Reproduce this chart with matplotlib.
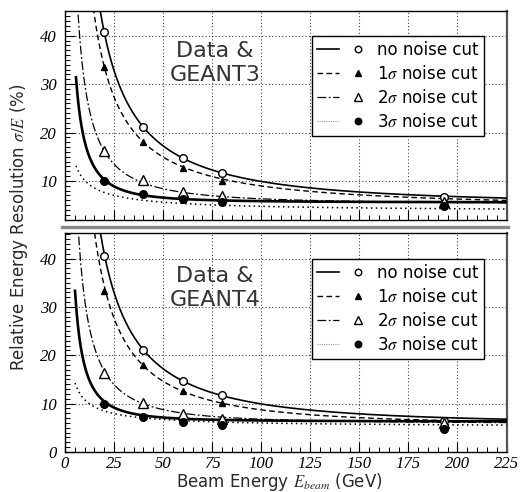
import numpy as np
import matplotlib
matplotlib.use("Agg")
import matplotlib.pyplot as plt
from matplotlib.lines import Line2D
from matplotlib.legend_handler import HandlerTuple
from matplotlib.ticker import MultipleLocator

# Beam energies (GeV) of the measured points
energies = [20, 40, 60, 80, 193]

# Measured relative resolution (%) for each noise-cut setting
res_no_cut = [40.7, 21.1, 14.7, 11.6, 6.6]
res_1sigma = [33.6, 18.0, 12.6, 10.0, 5.5]
res_2sigma = [16.1, 10.1, 7.8, 6.8, 5.6]
res_3sigma = [10.0, 7.25, 6.3, 5.7, 4.8]

# Bottom-panel measurements
res_no_cut_g4 = [40.6, 21.1, 14.6, 11.7, 6.5]
res_1sigma_g4 = [33.4, 18.0, 12.7, 10.2, 5.5]
res_2sigma_g4 = [16.3, 10.1, 7.9, 6.9, 6.0]
res_3sigma_g4 = [9.9, 7.3, 6.3, 5.6, 4.7]

# Simulation parametrisations sigma/E = a/sqrt(E) (+) b/E (+) c, in %
# columns: stochastic a, noise b, constant c
g3_no_cut = [31.3, 795, 5.0]
g3_1sigma = [47.5, 632, 4.24]
g3_2sigma = [23.7, 288, 5.1]
g3_3sigma = [29.8, 0, 3.71]
g3_total = [0, 173, 5.57]

g4_no_cut = [0, 812, 5.74]
g4_1sigma = [0, 678, 5.48]
g4_2sigma = [16.3, 306, 5.83]
g4_3sigma = [30.0, 0, 5.2]
g4_total = [0, 167, 6.3]

# lowest energy (GeV) at which the parametrisations are drawn
curve_start_g3 = 5.6
curve_start_g4 = 5.1

labels = ["no noise cut", r"1$\sigma$ noise cut",
          r"2$\sigma$ noise cut", r"3$\sigma$ noise cut"]
panel_titles = ["Data &\nGEANT3", "Data &\nGEANT4"]

x_ticks = [0, 25, 50, 75, 100, 125, 150, 175, 200, 225]
y_ticks = [0, 10, 20, 30, 40]

plt.rcParams["font.family"] = ["DejaVu Sans"]
plt.rcParams["mathtext.fontset"] = "stix"

fig = plt.figure(figsize=(5.2, 4.92), dpi=100)
W, H = 520.0, 492.0


def axes_px(left, top, right, bottom):
    return fig.add_axes([left / W, 1 - bottom / H, (right - left) / W, (bottom - top) / H])


ax_top = axes_px(65, 11, 506.5, 220)
ax_bot = axes_px(65, 233, 506.5, 452)


def resolution(E, p):
    a, b, c = p
    return np.sqrt(a ** 2 / E + b ** 2 / E ** 2 + c ** 2)


line_styles = [
    dict(color="black", lw=1.2, ls="-"),
    dict(color="black", lw=1.0, ls=(0, (4, 2.5))),
    dict(color="black", lw=0.9, ls=(0, (7, 2, 1.5, 2))),
    dict(color="black", lw=1.1, ls=(0, (1, 2.2))),
]
marker_styles = [
    dict(marker="o", mfc="white", mec="black", ms=5.5, mew=1.0),
    dict(marker="^", mfc="black", mec="black", ms=5.0, mew=1.0),
    dict(marker="^", mfc="white", mec="black", ms=6.5, mew=1.0),
    dict(marker="o", mfc="black", mec="black", ms=5.5, mew=1.0),
]

panels = [
    (ax_top, [res_no_cut, res_1sigma, res_2sigma, res_3sigma],
     [g3_no_cut, g3_1sigma, g3_2sigma, g3_3sigma], g3_total, (1.94, 45.1), curve_start_g3),
    (ax_bot, [res_no_cut_g4, res_1sigma_g4, res_2sigma_g4, res_3sigma_g4],
     [g4_no_cut, g4_1sigma, g4_2sigma, g4_3sigma], g4_total, (0.0, 45.3), curve_start_g4),
]

for i, (ax, meas, fits, total, ylim, e0) in enumerate(panels):
    E_curve = np.linspace(e0, 225.0, 600)
    for fit, ls in zip(fits, line_styles):
        ax.plot(E_curve, resolution(E_curve, fit), **ls, zorder=3)
    ax.plot(E_curve, resolution(E_curve, total), color="black", lw=1.9, zorder=3)
    for vals, ms in zip(meas, marker_styles):
        ax.plot(energies, vals, ls="none", zorder=4, **ms)

    ax.set_xlim(0, 225)
    ax.set_ylim(*ylim)
    ax.set_xticks(x_ticks)
    ax.set_yticks([t for t in y_ticks if ylim[0] <= t <= ylim[1]])
    ax.xaxis.set_minor_locator(MultipleLocator(5))
    ax.yaxis.set_minor_locator(MultipleLocator(1))
    ax.grid(True, which="major", color="#444444", ls=(0, (1, 2)), lw=0.8)
    ax.tick_params(which="both", direction="in", top=False, right=False)
    ax.tick_params(which="major", length=7, width=0.8)
    ax.tick_params(which="minor", length=3.5, width=0.7)
    ax.tick_params(axis="y", pad=6)
    for lab in ax.get_yticklabels() + ax.get_xticklabels():
        lab.set_family("Liberation Serif")
        lab.set_style("italic")
        lab.set_fontsize(12)
    for sp in ax.spines.values():
        sp.set_linewidth(1.0)
    ax.spines["right"].set_color("#555555")
    ax.spines["right"].set_linewidth(1.6)

    ax.text(0.34, 0.75, panel_titles[i], transform=ax.transAxes, ha="center",
            va="center", fontsize=16, color="#333333", linespacing=1.28, zorder=5)

    handles = [(Line2D([], [], **ls), Line2D([], [], ls="none", **{**ms, "ms": ms["ms"] * 0.85}))
               for ls, ms in zip(line_styles, marker_styles)]
    handles[3] = (Line2D([], [], color="#999999", lw=0.8, ls=(0, (1, 1))), handles[3][1])
    leg = ax.legend(handles, labels, loc="upper right", bbox_to_anchor=(0.949, 0.882),
                    borderaxespad=0,
                    handler_map={tuple: HandlerTuple(ndivide=2, pad=0.5)},
                    handlelength=3.1, handletextpad=0.5, fontsize=12, labelspacing=0.36,
                    borderpad=0.3, fancybox=False, framealpha=1, edgecolor="black")
    leg.get_frame().set_linewidth(1.0)
    leg.set_zorder(6)

ax_top.tick_params(axis="x", labelbottom=False)
ax_bot.tick_params(axis="x", pad=3)

# grey pad border between the two panels
fig.add_artist(Line2D([62 / W, 508 / W], [1 - 226.5 / H] * 2, color="#888888", lw=2.4))

fig.text(19 / W, 1 - 227 / H, r"Relative Energy Resolution $\sigma/E$ (%)", rotation=90,
         ha="center", va="center", fontsize=12, color="#2a2a2a")
fig.text(279 / W, 1 - 482 / H, r"Beam Energy $E_{beam}$ (GeV)", ha="center", va="center",
         fontsize=12, color="#2a2a2a")

fig.savefig("out.png", dpi=100)
